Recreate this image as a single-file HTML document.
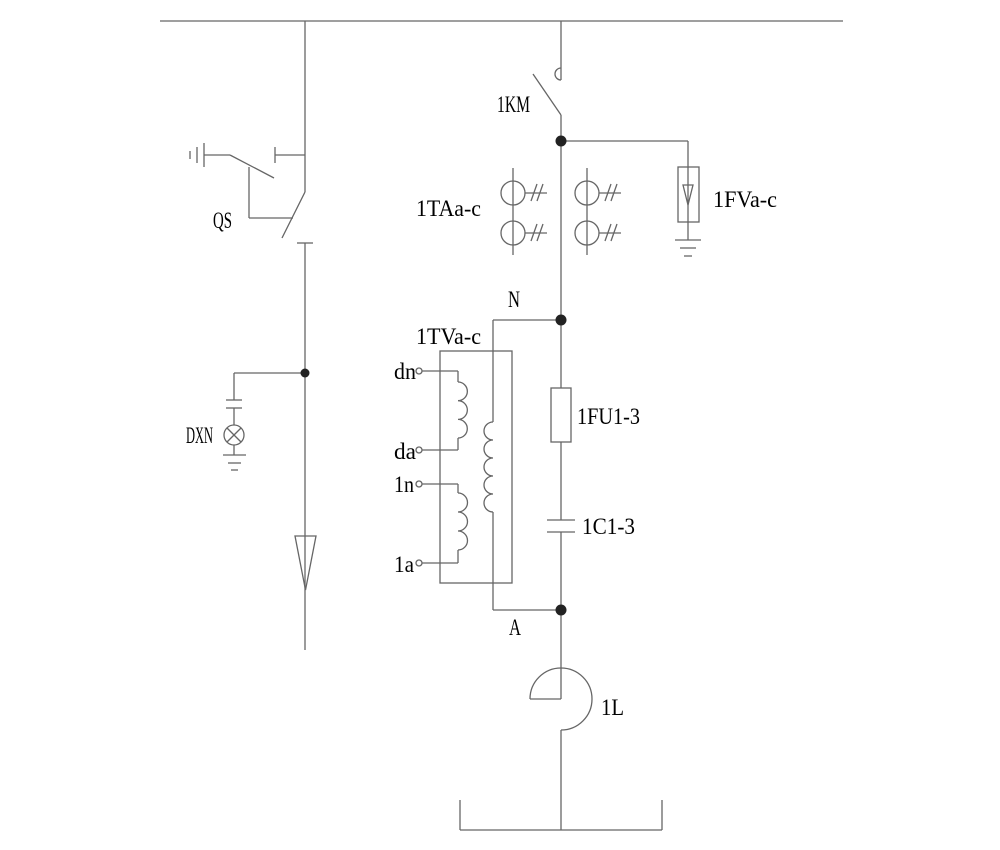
<!DOCTYPE html>
<html><head><meta charset="utf-8"><style>
html,body{margin:0;padding:0;background:#fff}
svg{display:block}
text{font-family:"Liberation Serif",serif;font-size:23px;fill:#000}
</style></head><body>
<svg width="1000" height="850" viewBox="0 0 1000 850" xmlns="http://www.w3.org/2000/svg">
<g stroke="#666" stroke-width="1.3" fill="none">
<line x1="160" y1="21" x2="843" y2="21"/>
<line x1="305" y1="21" x2="305" y2="192"/>
<line x1="275" y1="155" x2="305" y2="155"/>
<line x1="275" y1="147" x2="275" y2="163"/>
<line x1="305" y1="192" x2="282" y2="238"/>
<line x1="297" y1="243" x2="313" y2="243"/>
<line x1="305" y1="243" x2="305" y2="650"/>
<line x1="190" y1="151" x2="190" y2="159"/>
<line x1="197" y1="147" x2="197" y2="163"/>
<line x1="204" y1="143" x2="204" y2="167"/>
<line x1="204" y1="155" x2="230" y2="155"/>
<line x1="230" y1="155" x2="274" y2="178"/>
<line x1="249" y1="167" x2="249" y2="218"/>
<line x1="249" y1="218" x2="293" y2="218"/>
<line x1="234" y1="373" x2="305" y2="373"/>
<line x1="234" y1="373" x2="234" y2="400"/>
<line x1="226" y1="400" x2="242" y2="400"/>
<line x1="226" y1="408" x2="242" y2="408"/>
<line x1="234" y1="408" x2="234" y2="425"/>
<circle cx="234" cy="435" r="10"/>
<line x1="227" y1="428" x2="241" y2="442"/>
<line x1="241" y1="428" x2="227" y2="442"/>
<line x1="234" y1="445" x2="234" y2="455"/>
<line x1="223" y1="455" x2="246" y2="455"/>
<line x1="228" y1="463" x2="241" y2="463"/>
<line x1="231" y1="470" x2="238" y2="470"/>
<polygon points="295,536 316,536 305.5,590"/>
<line x1="561" y1="21" x2="561" y2="80"/>
<path d="M561 68 A6 6 0 0 0 561 80"/>
<line x1="533" y1="74" x2="561" y2="115"/>
<line x1="561" y1="115" x2="561" y2="388"/>
<rect x="551" y="388" width="20" height="54"/>
<line x1="561" y1="442" x2="561" y2="520"/>
<line x1="547" y1="520" x2="575" y2="520"/>
<line x1="547" y1="532" x2="575" y2="532"/>
<line x1="561" y1="532" x2="561" y2="699"/>
<line x1="530" y1="699" x2="561" y2="699"/>
<path d="M530 699 A31 31 0 0 1 561 668 A31 31 0 0 1 561 730"/>
<line x1="561" y1="730" x2="561" y2="830"/>
<line x1="460" y1="830" x2="662" y2="830"/>
<line x1="460" y1="800" x2="460" y2="830"/>
<line x1="662" y1="800" x2="662" y2="830"/>
<line x1="561" y1="141" x2="688" y2="141"/>
<line x1="688" y1="141" x2="688" y2="240"/>
<rect x="678" y="167" width="21" height="55"/>
<polygon points="683,185 693,185 688,205"/>
<line x1="675" y1="240" x2="701" y2="240"/>
<line x1="680" y1="248" x2="696" y2="248"/>
<line x1="684" y1="256" x2="692" y2="256"/>
<g id="ct">
<line x1="513" y1="168" x2="513" y2="255"/>
<circle cx="513" cy="193" r="12"/>
<circle cx="513" cy="233" r="12"/>
<line x1="525" y1="193" x2="547" y2="193"/>
<line x1="531" y1="201" x2="537" y2="184"/>
<line x1="537" y1="201" x2="543" y2="184"/>
<line x1="525" y1="233" x2="547" y2="233"/>
<line x1="531" y1="241" x2="537" y2="224"/>
<line x1="537" y1="241" x2="543" y2="224"/>
</g>
<use href="#ct" x="74"/>
<line x1="493" y1="320" x2="561" y2="320"/>
<line x1="493" y1="320" x2="493" y2="422"/>
<path d="M493 422 a9 9 0 0 0 0 18 a9 9 0 0 0 0 18 a9 9 0 0 0 0 18 a9 9 0 0 0 0 18 a9 9 0 0 0 0 18"/>
<line x1="493" y1="512" x2="493" y2="610"/>
<line x1="493" y1="610" x2="561" y2="610"/>
<rect x="440" y="351" width="72" height="232"/>
<line x1="422" y1="371" x2="458" y2="371"/>
<line x1="458" y1="371" x2="458" y2="382"/>
<path d="M458 382 a9.3 9.3 0 0 1 0 18.7 a9.3 9.3 0 0 1 0 18.7 a9.3 9.3 0 0 1 0 18.6"/>
<line x1="458" y1="438" x2="458" y2="450"/>
<line x1="422" y1="450" x2="458" y2="450"/>
<line x1="422" y1="484" x2="458" y2="484"/>
<line x1="458" y1="484" x2="458" y2="493"/>
<path d="M458 493 a9.5 9.5 0 0 1 0 19 a9.5 9.5 0 0 1 0 19 a9.5 9.5 0 0 1 0 19"/>
<line x1="458" y1="550" x2="458" y2="563"/>
<line x1="422" y1="563" x2="458" y2="563"/>
<circle cx="419" cy="371" r="3"/>
<circle cx="419" cy="450" r="3"/>
<circle cx="419" cy="484" r="3"/>
<circle cx="419" cy="563" r="3"/>
</g>
<g fill="#222">
<circle cx="305" cy="373" r="4.5"/>
<circle cx="561" cy="141" r="5.5"/>
<circle cx="561" cy="320" r="5.5"/>
<circle cx="561" cy="610" r="5.5"/>
</g>
<text x="497" y="112" textLength="33" lengthAdjust="spacingAndGlyphs">1KM</text>
<text x="213" y="228" textLength="19" lengthAdjust="spacingAndGlyphs">QS</text>
<text x="186" y="443" textLength="27" lengthAdjust="spacingAndGlyphs">DXN</text>
<text x="416" y="216" textLength="65" lengthAdjust="spacingAndGlyphs">1TAa-c</text>
<text x="713" y="207" textLength="64" lengthAdjust="spacingAndGlyphs">1FVa-c</text>
<text x="508" y="307" textLength="12" lengthAdjust="spacingAndGlyphs">N</text>
<text x="416" y="344" textLength="65" lengthAdjust="spacingAndGlyphs">1TVa-c</text>
<text x="394" y="379" textLength="22" lengthAdjust="spacingAndGlyphs">dn</text>
<text x="394" y="459" textLength="22" lengthAdjust="spacingAndGlyphs">da</text>
<text x="394" y="492" textLength="20" lengthAdjust="spacingAndGlyphs">1n</text>
<text x="394" y="572" textLength="20" lengthAdjust="spacingAndGlyphs">1a</text>
<text x="577" y="424" textLength="63" lengthAdjust="spacingAndGlyphs">1FU1-3</text>
<text x="582" y="534" textLength="53" lengthAdjust="spacingAndGlyphs">1C1-3</text>
<text x="509" y="635" textLength="12" lengthAdjust="spacingAndGlyphs">A</text>
<text x="601" y="715" textLength="23" lengthAdjust="spacingAndGlyphs">1L</text>
</svg>
</body></html>
